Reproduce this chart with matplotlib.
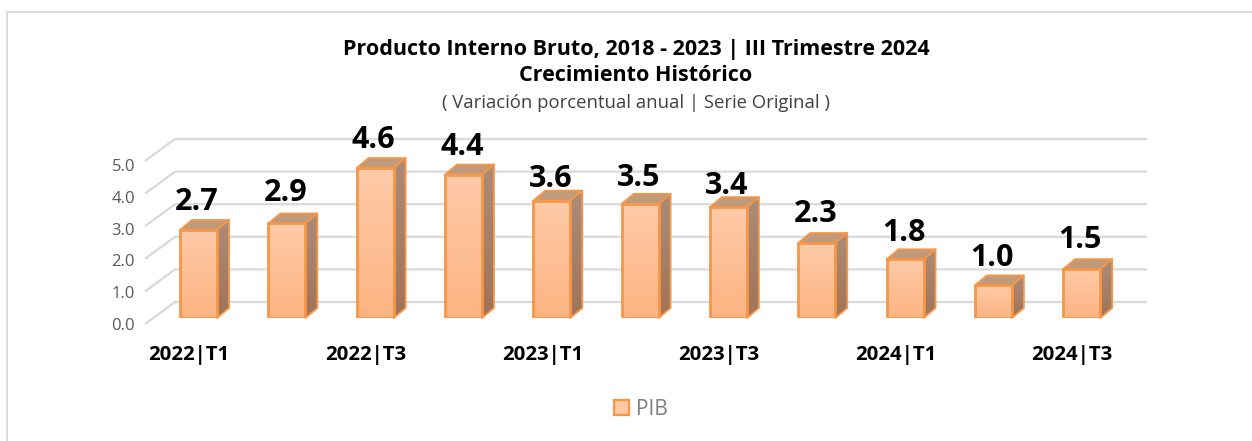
import matplotlib
matplotlib.use('Agg')
import matplotlib.pyplot as plt
import numpy as np
from matplotlib.lines import Line2D
from matplotlib.patches import Polygon, Rectangle

plt.rcParams['font.family'] = ['Open Sans', 'DejaVu Sans']

valores = [2.7, 2.9, 4.6, 4.4, 3.6, 3.5, 3.4, 2.3, 1.8, 1.0, 1.5]
etiquetas = ['2022|T1', '', '2022|T3', '', '2023|T1', '', '2023|T3', '', '2024|T1', '', '2024|T3']
ticks_y = [0, 1, 2, 3, 4, 5]

# separacion de cada etiqueta sobre su barra (px)
sep_etiqueta = [28, 30, 28, 28, 22, 26, 21, 29, 26, 27, 29]

W, H = 1252, 441
fig = plt.figure(figsize=(W / 100, H / 100), dpi=100)

# marco: solo izquierda y arriba llegan a verse
fig.add_artist(Line2D([7 / W, 7 / W, 1], [0, 1 - 11.5 / H, 1 - 11.5 / H], transform=fig.transFigure,
                      color='#d9d9d9', lw=1.3))

# ejes: frente del piso, y=0 en 318 px, y=5 en 155 px
x0, x1, y0, y5 = 145, 1117, 318, 155
ax = fig.add_axes([x0 / W, 1 - y0 / H, (x1 - x0) / W, (y0 - y5) / H])
ax.axis('off')

px = (10.4 + 0.606) / (x1 - x0)
py = 5 / (y0 - y5)

# rejilla con perspectiva
for v in ticks_y:
    xs = [-0.606, -0.606 + 30 * px, 10.4 + 30 * px]
    ys = [v - 6 * py, v + 16 * py, v + 16 * py]
    ax.plot(xs, ys, color='#d9d9d9', lw=1.6, clip_on=False, zorder=1, solid_capstyle='butt')
    ax.text(-0.606 - 10 * px, v - (8 + 0.8 * v) * py, '%.1f' % v, ha='right', va='center', fontsize=12,
            color='#595959', clip_on=False)

borde = '#f79646'
ancho = 37 * px
dx, dy = 12 * px, 10 * py


def degradado(c1, c2):
    g = np.linspace(0, 1, 64).reshape(-1, 1, 1)
    return (np.array(c1) * (1 - g) + np.array(c2) * g) / 255


img = degradado([254, 202, 168], [253, 180, 130])
img_lado = degradado([172, 140, 120], [160, 116, 88])

for i, v in enumerate(valores):
    l, r = i - ancho / 2, i + ancho / 2
    top = Polygon([(l, v), (l + dx, v + dy), (r + dx, v + dy), (r, v)], fc='#c19a7c', ec=borde, lw=1.3,
                  clip_on=False, zorder=3, joinstyle='round')
    side = Polygon([(r, 0), (r + dx, dy), (r + dx, v + dy), (r, v)], fc='none', ec=borde, lw=1.3,
                   clip_on=False, zorder=3.2, joinstyle='round')
    ax.add_patch(top)
    ax.add_patch(side)
    im = ax.imshow(img_lado, extent=(r, r + dx, 0, v + dy), aspect='auto', zorder=3.1, origin='upper')
    im.set_clip_path(side)
    # cara frontal con degradado
    ax.imshow(img, extent=(l, r, 0, v), aspect='auto', zorder=4, origin='upper')
    ax.bar(i, v, width=ancho, fc='none', ec=borde, lw=2, zorder=5)
    ax.text(i - 1.5 * px, v + sep_etiqueta[i] * py, '%.1f' % v, ha='center', va='center', fontsize=22,
            fontweight='bold', color='black', clip_on=False, zorder=6)
    if etiquetas[i]:
        ax.text(i - 9.5 * px, -37 * py, etiquetas[i], ha='center', va='center', fontsize=14.7,
                fontweight='bold', color='black', clip_on=False)
ax.set_xlim(-0.606, 10.4)
ax.set_ylim(0, 5)

# titulos
fig.text(636 / W, 1 - 49 / H, 'Producto Interno Bruto, 2018 - 2023 | III Trimestre 2024', ha='center', va='center',
         fontsize=15.5, fontweight='bold', color='black')
fig.text(636 / W, 1 - 75.5 / H, 'Crecimiento Histórico', ha='center', va='center',
         fontsize=15.5, fontweight='bold', color='black')
fig.text(636 / W, 1 - 103 / H, '( Variación porcentual anual | Serie Original )', ha='center', va='center',
         fontsize=13.3, color='#404040')

# leyenda
fig.add_artist(Rectangle((613.5 / W, 1 - 415 / H), 15 / W, 15.5 / H, transform=fig.transFigure,
                         fc='#fec8a4', ec=borde, lw=1.6))
fig.text(635.5 / W, 1 - 409.5 / H, 'PIB', ha='left', va='center', fontsize=15, color='#7f7f7f')

fig.savefig('out.png', dpi=100)
